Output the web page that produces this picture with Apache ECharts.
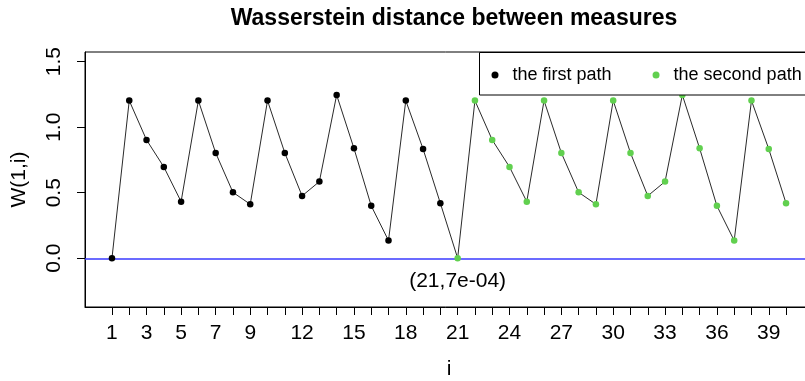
<!DOCTYPE html>
<html>
<head>
<meta charset="utf-8">
<script src="https://cdn.jsdelivr.net/npm/echarts@6/dist/echarts.min.js"></script>
<style>
  html, body { margin: 0; padding: 0; background: #fff; }
  #chart { width: 805px; height: 381px; }
</style>
</head>
<body>
<div id="chart"></div>
<script>
// W(1,i) for i = 1..20 (first path) and i = 21..40 (second path)
const firstIdx = [1,2,3,4,5,6,7,8,9,10,11,12,13,14,15,16,17,18,19,20];
const firstPath = [0, 1.203, 0.903, 0.697, 0.432, 1.203, 0.804, 0.503, 0.412, 1.203,
                   0.804, 0.476, 0.585, 1.246, 0.839, 0.400, 0.135, 1.203, 0.834, 0.420];
const secondIdx = [21,22,23,24,25,26,27,28,29,30,31,32,33,34,35,36,37,38,39,40];
const secondPath = [0.0007, 1.203, 0.903, 0.697, 0.432, 1.203, 0.804, 0.503, 0.412, 1.203,
                    0.804, 0.476, 0.585, 1.246, 0.839, 0.400, 0.135, 1.203, 0.834, 0.420];
const xTicks = [1,2,3,4,5,6,7,8,9,10,11,12,13,14,15,16,17,18,19,20,
                21,22,23,24,25,26,27,28,29,30,31,32,33,34,35,36,37,38,39,40];
const xTickLabels = [1,3,5,7,9,12,15,18,21,24,27,30,33,36,39];
const yTickLabels = [0, 0.5, 1, 1.5];
const markedIndex = 21;

const FONT = "'Liberation Sans', Arial, sans-serif";

const firstPts = firstIdx.map((x, k) => [x, firstPath[k]]);
const secondPts = secondIdx.map((x, k) => [x, secondPath[k]]);
const pathPts = firstPts.concat(secondPts);

// R-style scientific notation, e.g. 7e-04
function sci(v) {
  const s = v.toExponential(0);
  return s.replace(/e([+-])(\d)$/, 'e$10$2');
}

const chart = echarts.init(document.getElementById('chart'), null, { renderer: 'canvas' });

chart.setOption({
  animation: false,
  backgroundColor: '#ffffff',
  textStyle: { fontFamily: FONT },
  title: {
    text: 'Wasserstein distance between measures',
    left: 449,
    textAlign: 'center',
    top: 2,
    textStyle: { fontFamily: FONT, fontSize: 23, fontWeight: 'bold', color: '#000' }
  },
  grid: {
    left: 85, top: 52, width: 728, height: 255,
    show: true, borderColor: '#000', borderWidth: 1, backgroundColor: 'transparent',
    containLabel: false, outerBoundsMode: 'none'
  },
  xAxis: {
    type: 'value',
    min: -0.56, max: 41.56,
    name: 'i',
    nameLocation: 'middle',
    nameGap: 52,
    nameTextStyle: { fontFamily: FONT, fontSize: 21, color: '#000' },
    axisLine: { show: true, onZero: false, lineStyle: { color: '#000', width: 1 } },
    axisTick: { show: true, inside: false, length: 8, customValues: xTicks,
                lineStyle: { color: '#000', width: 1 } },
    axisLabel: { show: true, customValues: xTickLabels, margin: 16,
                 fontFamily: FONT, fontSize: 21, color: '#000' },
    splitLine: { show: false }
  },
  yAxis: {
    type: 'value',
    min: -0.372, max: 1.574,
    name: 'W(1,i)',
    nameLocation: 'middle',
    nameGap: 55,
    nameRotate: 90,
    nameTextStyle: { fontFamily: FONT, fontSize: 21, color: '#000' },
    axisLine: { show: true, onZero: false, lineStyle: { color: '#000', width: 1 } },
    axisTick: { show: true, inside: false, length: 8, customValues: yTickLabels,
                lineStyle: { color: '#000', width: 1 } },
    axisLabel: { show: true, customValues: yTickLabels, rotate: 90, margin: 20,
                 formatter: v => v.toFixed(1),
                 fontFamily: FONT, fontSize: 21, color: '#000' },
    splitLine: { show: false }
  },
  legend: {
    data: ['the first path', 'the second path'],
    orient: 'horizontal',
    left: 491.5, top: 65,
    padding: 0,
    icon: 'circle',
    itemWidth: 25, itemHeight: 7,
    itemGap: 41,
    z: 20,
    textStyle: { fontFamily: FONT, fontSize: 18, color: '#000', lineHeight: 20 }
  },
  graphic: [{
    type: 'rect',
    z: 10,
    shape: { x: 479.5, y: 52.5, width: 340, height: 42.5 },
    style: { fill: '#ffffff', stroke: '#000', lineWidth: 1 }
  }],
  series: [
    {
      name: 'path',
      type: 'line',
      data: pathPts,
      showSymbol: false,
      symbol: 'none',
      lineStyle: { color: '#2a2a2a', width: 1 },
      z: 2,
      markLine: {
        silent: true,
        symbol: 'none',
        label: { show: false },
        lineStyle: { color: '#3a3aff', width: 1.5, type: 'solid' },
        data: [{ yAxis: 0 }]
      }
    },
    {
      name: 'the first path',
      type: 'scatter',
      data: firstPts,
      symbol: 'circle',
      symbolSize: 6.5,
      itemStyle: { color: '#000000', opacity: 1 },
      z: 5
    },
    {
      name: 'the second path',
      type: 'scatter',
      data: secondPts,
      symbol: 'circle',
      symbolSize: 6.5,
      itemStyle: { color: '#61D04F', opacity: 1 },
      z: 5,
      label: {
        show: true,
        position: 'bottom',
        distance: 9,
        fontFamily: FONT, fontSize: 21, color: '#000',
        formatter: p => p.value[0] === markedIndex ? '(' + p.value[0] + ',' + sci(p.value[1]) + ')' : ''
      }
    }
  ]
});
</script>
</body>
</html>
